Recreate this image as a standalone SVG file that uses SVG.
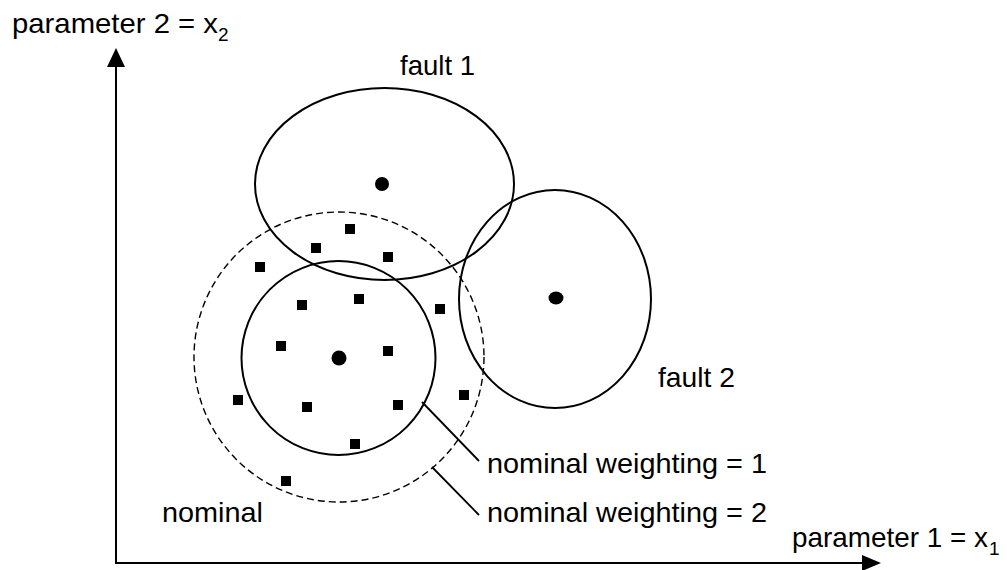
<svg xmlns="http://www.w3.org/2000/svg" width="1007" height="570" viewBox="0 0 1007 570">
  <style>
    .lbl { font-family: "Liberation Sans", Arial, sans-serif; font-size: 28px; fill: #000; }
    .sub { font-family: "Liberation Sans", Arial, sans-serif; font-size: 19px; fill: #000; }
    .region { fill: none; stroke: #000; stroke-width: 2; }
    .dashed { fill: none; stroke: #000; stroke-width: 1.4; stroke-dasharray: 7 4; }
    .axis { fill: none; stroke: #000; stroke-width: 2; }
    .leader { fill: none; stroke: #000; stroke-width: 1.8; }
    .centre { fill: #000; }
    .sample { fill: #000; }
  </style>
  <rect width="1007" height="570" fill="#fff"/>

  <!-- axes -->
  <g id="axes">
    <polyline class="axis" points="116,66 116,563 864,563"/>
    <polygon points="116,48 107,67 125,67" fill="#000"/>
    <polygon points="881,563 862,555 862,571" fill="#000"/>
    <text class="lbl" x="12" y="33" textLength="206" lengthAdjust="spacingAndGlyphs">parameter 2 = x</text>
    <text class="sub" x="218" y="41">2</text>
    <text class="lbl" x="792" y="547" textLength="196" lengthAdjust="spacingAndGlyphs">parameter 1 = x</text>
    <text class="sub" x="989" y="555">1</text>
  </g>

  <!-- fault 1 region -->
  <g id="fault1">
    <ellipse class="region" cx="384.5" cy="184" rx="129.5" ry="96"/>
    <circle class="centre" cx="382" cy="184" r="7"/>
    <text class="lbl" x="400" y="75" textLength="75" lengthAdjust="spacingAndGlyphs">fault 1</text>
  </g>

  <!-- fault 2 region -->
  <g id="fault2">
    <ellipse class="region" cx="555" cy="299" rx="96" ry="109"/>
    <ellipse class="centre" cx="556" cy="298" rx="7.5" ry="6.5"/>
    <text class="lbl" x="658" y="387" textLength="77" lengthAdjust="spacingAndGlyphs">fault 2</text>
  </g>

  <!-- nominal region, weighting 2 -->
  <g id="nominal-w2">
    <circle class="dashed" cx="339" cy="357" r="145"/>
    <text class="lbl" x="162" y="522" textLength="101" lengthAdjust="spacingAndGlyphs">nominal</text>
    <text class="lbl" x="487" y="522" textLength="280" lengthAdjust="spacingAndGlyphs">nominal weighting = 2</text>
  </g>

  <!-- nominal region, weighting 1 -->
  <g id="nominal-w1">
    <circle class="region" cx="338.5" cy="358" r="97"/>
    <circle class="centre" cx="339" cy="358" r="7.5"/>
    <text class="lbl" x="487" y="473" textLength="280" lengthAdjust="spacingAndGlyphs">nominal weighting = 1</text>
  </g>

  <!-- nominal sample points -->
  <g id="samples">
    <rect class="sample" x="345" y="224" width="10" height="10"/>
    <rect class="sample" x="311" y="243" width="10" height="10"/>
    <rect class="sample" x="383" y="252" width="10" height="10"/>
    <rect class="sample" x="255" y="262" width="10" height="10"/>
    <rect class="sample" x="297" y="300" width="10" height="10"/>
    <rect class="sample" x="354" y="294" width="10" height="10"/>
    <rect class="sample" x="435" y="304" width="10" height="10"/>
    <rect class="sample" x="276" y="341" width="10" height="10"/>
    <rect class="sample" x="383" y="346" width="10" height="10"/>
    <rect class="sample" x="233" y="395" width="10" height="10"/>
    <rect class="sample" x="302" y="402" width="10" height="10"/>
    <rect class="sample" x="393" y="400" width="10" height="10"/>
    <rect class="sample" x="459" y="390" width="10" height="10"/>
    <rect class="sample" x="350" y="439" width="10" height="10"/>
    <rect class="sample" x="281" y="476" width="10" height="10"/>
  </g>

  <!-- label leaders -->
  <g id="connectors">
    <line class="leader" x1="422" y1="402" x2="479" y2="461"/>
    <line class="leader" x1="432" y1="467" x2="479" y2="515"/>
  </g>
</svg>
